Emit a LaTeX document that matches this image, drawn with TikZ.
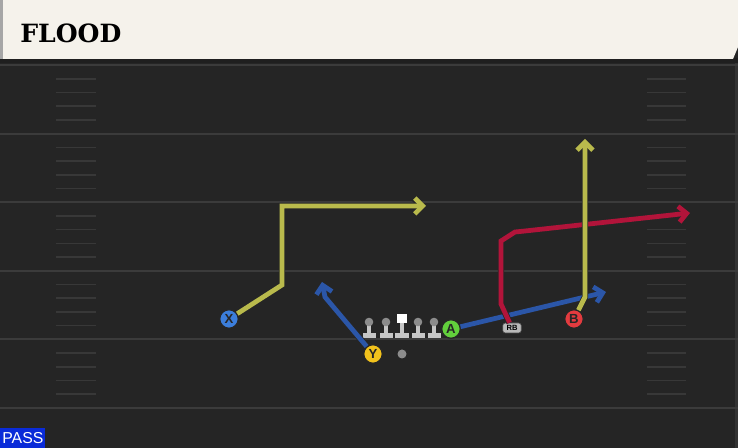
\documentclass[tikz,border=0pt]{standalone}
\usepackage{fontspec}
\setsansfont{Liberation Sans}
\newfontfamily\slabfont{DejaVu Serif}
\usetikzlibrary{arrows.meta}

\definecolor{field}{HTML}{252525}
\definecolor{yardline}{HTML}{3B3B3B}
\definecolor{hashline}{HTML}{383838}
\definecolor{cream}{HTML}{F5F2EB}
\definecolor{routeyellow}{HTML}{B9BA4C}
\definecolor{routeblue}{HTML}{2B56A8}
\definecolor{routered}{HTML}{B2143A}
\definecolor{xblue}{HTML}{3C7EDB}
\definecolor{ygold}{HTML}{F2C21C}
\definecolor{agreen}{HTML}{62CF3C}
\definecolor{bred}{HTML}{E33B3F}
\definecolor{passblue}{HTML}{0A2BD8}
\definecolor{linebody}{HTML}{C6C6C6}
\definecolor{linehead}{HTML}{8C8C8C}

\tikzset{
  player/.style={circle, draw=black!85, line width=0.7pt, minimum size=0.37cm,
    inner sep=0pt, font=\sffamily\bfseries\fontsize{7.5}{7.5}\selectfont, text=black!85},
  route/.style={line width=2.7pt, line join=miter,
    -{Straight Barb[length=4.5pt,width=9pt]},
    preaction={draw=black!85, line width=3.6pt}},
}

\begin{document}
\begin{tikzpicture}[x=0.02cm, y=-0.02cm]
        \useasboundingbox (0,0) rectangle (738,448);

        % field
        \fill[field] (0,0) rectangle (738,448);
        \fill[black!80] (735,62) rectangle (738,448);
        \foreach \k in {0,...,5} \draw[yardline, line width=1.1pt] (0,65+68.6*\k) -- (738,65+68.6*\k);
        \foreach \k in {0,...,4}
          \foreach \j in {1,...,4} {
            \draw[hashline, line width=0.9pt] (56,65+68.6*\k+13.72*\j) -- (96,65+68.6*\k+13.72*\j);
            \draw[hashline, line width=0.9pt] (647,65+68.6*\k+13.72*\j) -- (686,65+68.6*\k+13.72*\j);
          }

        % header
        \fill[black!88] (0,58) rectangle (738,63);
        \fill[gray!70] (0,0) rectangle (3,59);
        \fill[cream] (3,0) -- (738,0) -- (738,47) -- (733,59) -- (3,59) -- cycle;
        \node[anchor=west, inner sep=0pt, font=\slabfont\bfseries\fontsize{14.3}{14.3}\selectfont] (title) at (20,33) {FLOOD};

        % play type
        \node[fill=passblue, text=white, anchor=south west, inner sep=0pt, minimum width=0.9cm, minimum height=0.4cm,
          font=\sffamily\fontsize{9}{9}\selectfont] (pass) at (0,448) {PASS};

        % line
        \foreach \x in {369,386,418,434} {
          \fill[linebody] (\x-2.4,324) rectangle (\x+2.4,334);
          \fill[linebody] (\x-6.5,333) rectangle (\x+6.5,338);
          \fill[linehead] (\x,322) circle (4.3);
        }
        \fill[linebody] (399.6,322) rectangle (404.4,334);
        \fill[linebody] (395,333) rectangle (409,338);
        \fill[white] (397,314) rectangle (407,323);
        \fill[linehead] (402,354) circle (4.5);

        % players
        \node[player, fill=xblue] (X) at (229,319) {X};
        \node[player, fill=ygold] (Y) at (373,354) {Y};
        \node[player, fill=agreen] (A) at (451,329) {A};
        \node[player, fill=bred] (B) at (574,319) {B};
        \node[fill=gray!55!white, draw=black!70, line width=0.3pt, rounded corners=1.5pt, inner sep=0pt,
          minimum width=0.37cm, minimum height=0.2cm, font=\sffamily\bfseries\fontsize{4.3}{4.3}\selectfont] (RB) at (512,328) {RB};

        % routes
        \coordinate (x1) at (282,285);
        \coordinate (x2) at (282,206);
        \coordinate (x3) at (426,206);
        \draw[route, routeyellow] (X) -- (x1) -- (x2) -- (x3);

        \coordinate (y1) at (325,297);
        \coordinate (y2) at (322,282);
        \draw[route, routeblue] (Y) -- (y1) -- (y2);

        \coordinate (a1) at (606,292);
        \draw[route, routeblue] (A) -- (a1);

        \coordinate (r1) at (501,304);
        \coordinate (r2) at (501,241);
        \coordinate (r3) at (515,232);
        \coordinate (r4) at (525,231);
        \coordinate (r5) at (690,213);
        \draw[route, routered] (RB) -- (r1) -- (r2) -- (r3) -- (r4) -- (r5);

        \coordinate (b1) at (585,297);
        \coordinate (b2) at (585,139);
        \draw[route, routeyellow] (B) -- (b1) -- (b2);
\end{tikzpicture}
\end{document}
